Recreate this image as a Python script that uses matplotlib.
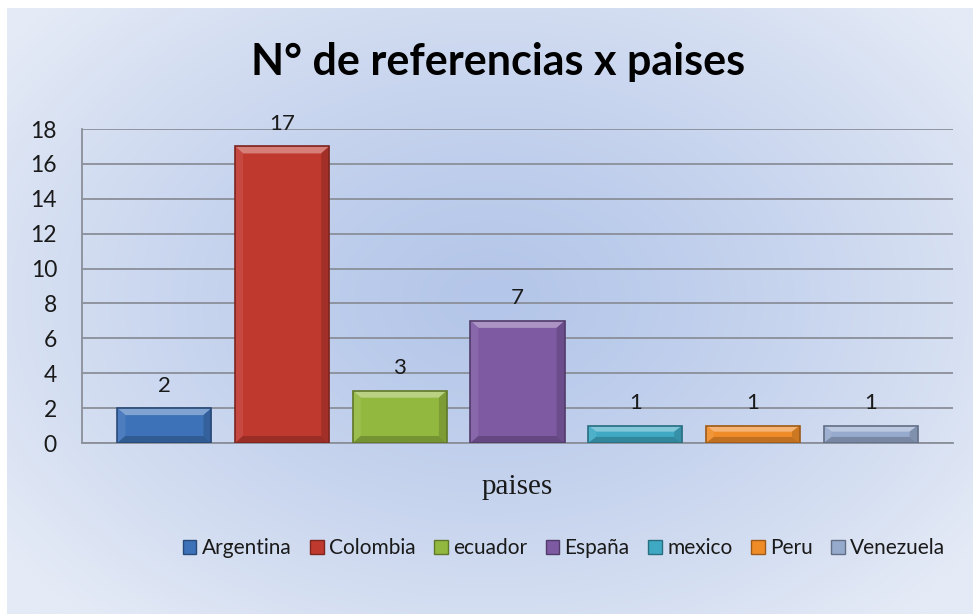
import matplotlib
matplotlib.use("Agg")
import matplotlib.pyplot as plt
import numpy as np
from matplotlib.patches import Polygon, Patch
from matplotlib.colors import to_rgb

paises = ["Argentina", "Colombia", "ecuador", "España", "mexico", "Peru", "Venezuela"]
referencias = [2, 17, 3, 7, 1, 1, 1]
colores = ["#3d72b8", "#c0392f", "#93b840", "#7e5aa3", "#3fa9c4", "#f08c28", "#96aacd"]
yticks = [0, 2, 4, 6, 8, 10, 12, 14, 16, 18]

plt.rcParams['font.family'] = ['Lato', 'DejaVu Sans']

W, H = 973, 614
fig = plt.figure(figsize=(W / 100, H / 100), dpi=100, facecolor="white")

# fondo degradado (radial, mas oscuro al centro)
bg = fig.add_axes([7 / W, 0, (W - 7) / W, (H - 8) / H])
ny, nx = 300, 480
yy, xx = np.mgrid[0:1:ny * 1j, 0:1:nx * 1j]
r = np.sqrt(((xx - 0.5) / 0.62) ** 2 + ((yy - 0.52) / 0.7) ** 2)
r = np.clip(r, 0, 1) ** 1.3
c_in = np.array([180, 198, 233]) / 255
c_out = np.array([228, 234, 246]) / 255
img = c_in[None, None, :] * (1 - r[..., None]) + c_out[None, None, :] * r[..., None]
bg.imshow(img, aspect="auto", extent=[0, 1, 0, 1], origin="lower")
bg.axis("off")
bg.set_zorder(-1)

ax = fig.add_axes([82 / W, 1 - 443 / H, (953 - 82) / W, (443 - 129) / H])
ax.set_facecolor("none")

x = np.arange(len(paises))
bw = 0.8
ax.set_xlim(-0.7, len(paises) - 0.3)
ax.set_ylim(0, 18)


def mezcla(c, otro, t):
    c = np.array(to_rgb(c))
    return tuple(c * (1 - t) + np.array(otro) * t)


# barras con efecto bisel
ppx = (953 - 82) / (len(paises) - 1 + 1.4)  # px por unidad x
ppy = (443 - 129) / 18.0
bx = 8 / ppx
by = 7 / ppy
for xi, h, c in zip(x, referencias, colores):
    x0, x1 = xi - bw / 2, xi + bw / 2
    ax.bar(xi, h, width=bw, color=c, linewidth=0, zorder=3)
    dy = min(by, h * 0.35)
    top = Polygon([(x0, h), (x1, h), (x1 - bx, h - dy), (x0 + bx, h - dy)],
                  closed=True, facecolor=mezcla(c, (1, 1, 1), 0.35), edgecolor="none", zorder=4)
    right = Polygon([(x1, h), (x1, 0), (x1 - bx, dy), (x1 - bx, h - dy)],
                    closed=True, facecolor=mezcla(c, (0, 0, 0), 0.15), edgecolor="none", zorder=4)
    left = Polygon([(x0, h), (x0, 0), (x0 + bx, dy), (x0 + bx, h - dy)],
                   closed=True, facecolor=mezcla(c, (1, 1, 1), 0.08), edgecolor="none", zorder=4)
    bot = Polygon([(x0, 0), (x1, 0), (x1 - bx, dy), (x0 + bx, dy)],
                  closed=True, facecolor=mezcla(c, (0, 0, 0), 0.2), edgecolor="none", zorder=4)
    for p in (top, right, left, bot):
        ax.add_patch(p)
    ax.bar(xi, h, width=bw, color="none", edgecolor=mezcla(c, (0, 0, 0), 0.35),
           linewidth=1.2, zorder=5)
    ax.annotate(str(h), (xi, h), xytext=(0, 9), textcoords="offset points",
                ha="center", va="bottom", fontsize=16, color="#1a1a1a")

ax.set_yticks(yticks)
ax.set_xticks([])
ax.yaxis.grid(True, color="#8a8f99", linewidth=1.3)
ax.set_axisbelow(True)
ax.tick_params(axis="y", length=0, pad=18, labelsize=16.5, labelcolor="#1a1a1a")
for s in ("top", "right"):
    ax.spines[s].set_visible(False)
ax.spines["left"].set_color("#8a8f99")
ax.spines["bottom"].set_color("#8a8f99")
ax.spines["left"].set_linewidth(1.3)
ax.spines["bottom"].set_linewidth(1.3)

ax.set_xlabel("paises", family="Liberation Serif", fontsize=21, labelpad=22, color="#1a1a1a")

fig.text(498 / W, 1 - 62 / H, "N° de referencias x paises", ha="center", va="center",
         fontsize=31, fontweight="bold", color="black")

handles = [Patch(facecolor=c, edgecolor=mezcla(c, (0, 0, 0), 0.35)) for c in colores]
fig.legend(handles, paises, loc="center", bbox_to_anchor=(564 / W, 1 - 548 / H),
           ncol=len(paises), frameon=False, fontsize=15, handlelength=0.65, handleheight=0.65,
           handletextpad=0.25, columnspacing=0.9, labelcolor="#1a1a1a")

fig.savefig("out.png", dpi=100)
